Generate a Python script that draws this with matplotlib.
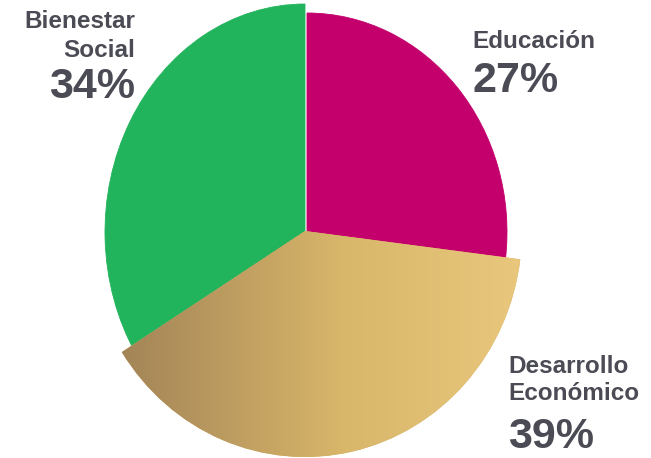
import matplotlib
matplotlib.use('Agg')
import matplotlib.pyplot as plt
from matplotlib.colors import LinearSegmentedColormap
from matplotlib.transforms import Affine2D
import numpy as np

labels = ["Educación", "Desarrollo\nEconómico", "Bienestar\nSocial"]
values = [27, 39, 34]
colors = ['#c4006c', '#d4b066', '#22b45c']

W, H = 651, 458
# per-slice ellipse geometry in pixels (center x, center y from top, rx, ry)
geom = [(307, 232, 200, 219), (305, 231, 217, 226), (305, 232, 200, 228)]
# label anchor (x, baseline of first line, baseline of pct, ha)
label_pos = [(472, 48, 92, 'left'), (508, 373, 448, 'left'), (135, 28, 98, 'right')]
line_gap = [0, 27, 29]
txt_color = '#4b4b55'

fig = plt.figure(figsize=(6.51, 4.58), dpi=100)
ax = fig.add_axes([0, 0, 1, 1])
wedges, _ = ax.pie(values, colors=colors, startangle=90, counterclock=False,
                   radius=1, wedgeprops=dict(linewidth=0))
ax.set_aspect('auto')
ax.axis('off')

for w, (cx, cy, rx, ry) in zip(wedges, geom):
    w.set_transform(Affine2D().scale(rx, ry).translate(cx, H - cy) + ax.transData)
for w in (wedges[0], wedges[2]):
    w.set_edgecolor(w.get_facecolor())
    w.set_linewidth(0.6)
wedges[1].set_zorder(2)

# gradient on Desarrollo slice
cmap = LinearSegmentedColormap.from_list('gold', [(0, '#a38457'), (0.55, '#d8b66a'), (1, '#e9c77c')])
grad = np.linspace(0, 1, 256).reshape(1, -1)
im = ax.imshow(grad, cmap=cmap, aspect='auto', extent=[120, 525, H - 462, H - 225], zorder=3)
im.set_clip_path(wedges[1])
ax.set_xlim(0, W)
ax.set_ylim(0, H)

for (x, yb1, yb2, ha), gap, name, v in zip(label_pos, line_gap, labels, values):
    for i, p in enumerate(name.split('\n')):
        ax.text(x, H - yb1 - i * gap, p, ha=ha, va='baseline', fontsize=17.5,
                fontweight='bold', color=txt_color, family='Liberation Sans', zorder=5)
    ax.text(x, H - yb2, f"{v}%", ha=ha, va='baseline', fontsize=31,
            fontweight='bold', color=txt_color, family='Liberation Sans', zorder=5)

plt.savefig('out.png', dpi=100)
